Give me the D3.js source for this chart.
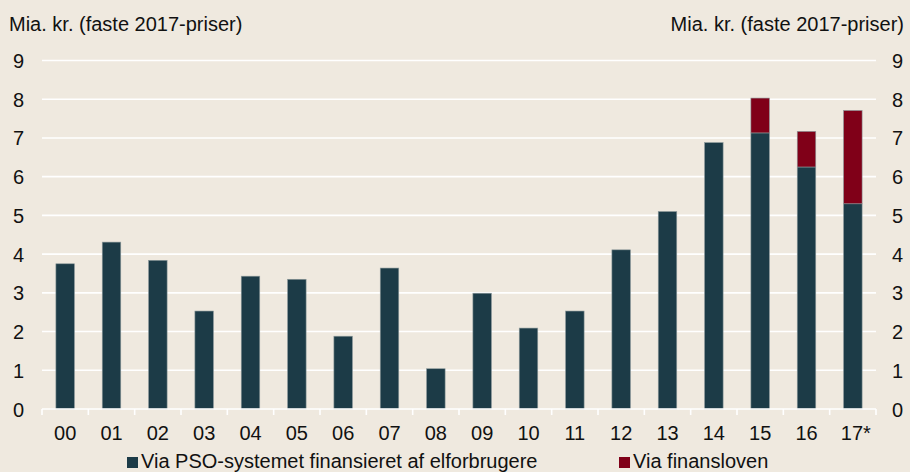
<!DOCTYPE html>
<html>
<head>
<meta charset="utf-8">
<script src="https://cdn.jsdelivr.net/npm/d3@7"></script>
<style>
  html, body { margin: 0; padding: 0; background: #efe9df; }
  svg { display: block; font-family: "Liberation Sans", Arial, sans-serif; }
</style>
</head>
<body>
<svg id="chart" width="910" height="472"></svg>
<script>
const years = ['00', '01', '02', '03', '04', '05', '06', '07', '08', '09',
  '10', '11', '12', '13', '14', '15', '16', '17*']
// Via PSO-systemet (mia. kr.)
const psoValues = [3.75, 4.31, 3.84, 2.53, 3.43, 3.35, 1.88, 3.64, 1.04, 2.99,
  2.09, 2.53, 4.11, 5.10, 6.88, 7.13, 6.25, 5.30]
// Via finansloven (mia. kr.)
const finanslovValues = [0, 0, 0, 0, 0, 0, 0, 0, 0, 0,
  0, 0, 0, 0, 0, 0.90, 0.92, 2.41]
const yTicks = [0, 1, 2, 3, 4, 5, 6, 7, 8, 9]
const seriesNames = ['Via PSO-systemet finansieret af elforbrugere', 'Via finansloven']
const seriesColors = ['#1c3b47', '#800018']
const axisTitle = 'Mia. kr. (faste 2017-priser)'

const width = 910, height = 472
const margin = {left: 42, right: 34, top: 60, bottom: 63}
const bg = '#efe9df'
const fontSize = 20

const svg = d3.select('#chart')
svg.append('rect').attr('width', width).attr('height', height).attr('fill', bg)

const rows = years.map((y, i) => ({year: y, pso: psoValues[i], fin: finanslovValues[i]}))
const stacked = d3.stack().keys(['pso', 'fin'])(rows)

const x = d3.scaleBand()
  .domain(years)
  .range([margin.left, width - margin.right])
  .paddingInner(0.6)
  .paddingOuter(0.3)

const y = d3.scaleLinear()
  .domain([0, 9])
  .range([height - margin.bottom, margin.top + 0.5])

// gridlines
svg.append('g').selectAll('line').data(yTicks.filter(d => d > 0)).join('line')
  .attr('x1', margin.left).attr('x2', width - margin.right)
  .attr('y1', d => y(d)).attr('y2', d => y(d))
  .attr('stroke', '#ffffff').attr('stroke-width', 1.6)

// bars
svg.append('g').selectAll('g').data(stacked).join('g')
  .attr('fill', (d, i) => seriesColors[i])
  .selectAll('rect').data(d => d.filter(s => s[1] - s[0] > 0)).join('rect')
    .attr('x', d => x(d.data.year))
    .attr('width', x.bandwidth())
    .attr('y', d => y(d[1]))
    .attr('height', d => y(d[0]) - y(d[1]))
    .attr('stroke', '#8d9a9c').attr('stroke-width', 0.6)

// x axis: line with ticks at band boundaries
const xAxisG = svg.append('g')
const y0 = y(0)
xAxisG.append('line')
  .attr('x1', margin.left).attr('x2', width - margin.right)
  .attr('y1', y0).attr('y2', y0)
  .attr('stroke', '#ffffff').attr('stroke-width', 1.6)
const bounds = years.map(d => x(d) - x.step() * x.paddingInner() / 2)
bounds.push(width - margin.right)
xAxisG.selectAll('line.tick').data(bounds).join('line')
  .attr('class', 'tick')
  .attr('x1', d => d).attr('x2', d => d)
  .attr('y1', y0).attr('y2', y0 + 6)
  .attr('stroke', '#ffffff').attr('stroke-width', 1.6)
xAxisG.selectAll('text').data(years).join('text')
  .attr('x', d => x(d) + x.bandwidth() / 2 + (d.endsWith('*') ? 3 : 0))
  .attr('y', y0 + 31)
  .attr('text-anchor', 'middle')
  .attr('font-size', fontSize)
  .attr('fill', '#111')
  .text(d => d)

// y labels, left and right
svg.append('g').selectAll('text').data(yTicks).join('text')
  .attr('x', 24).attr('y', d => y(d) + 7.5)
  .attr('text-anchor', 'end')
  .attr('font-size', fontSize).attr('fill', '#111')
  .text(d => d)
svg.append('g').selectAll('text').data(yTicks).join('text')
  .attr('x', 892).attr('y', d => y(d) + 7.5)
  .attr('text-anchor', 'start')
  .attr('font-size', fontSize).attr('fill', '#111')
  .text(d => d)

// axis titles
svg.append('text').attr('x', 9).attr('y', 31)
  .attr('font-size', fontSize).attr('fill', '#111').text(axisTitle)
svg.append('text').attr('x', 904).attr('y', 31)
  .attr('text-anchor', 'end')
  .attr('font-size', fontSize).attr('fill', '#111').text(axisTitle)

// legend
const legendX = [127, 619]
const legend = svg.append('g').selectAll('g').data(seriesNames).join('g')
  .attr('transform', (d, i) => `translate(${legendX[i]}, 457)`)
legend.append('rect').attr('width', 11).attr('height', 11)
  .attr('fill', (d, i) => seriesColors[i])
legend.append('text').attr('x', 14).attr('y', 11)
  .attr('font-size', fontSize).attr('fill', '#111')
  .text(d => d)
</script>
</body>
</html>
